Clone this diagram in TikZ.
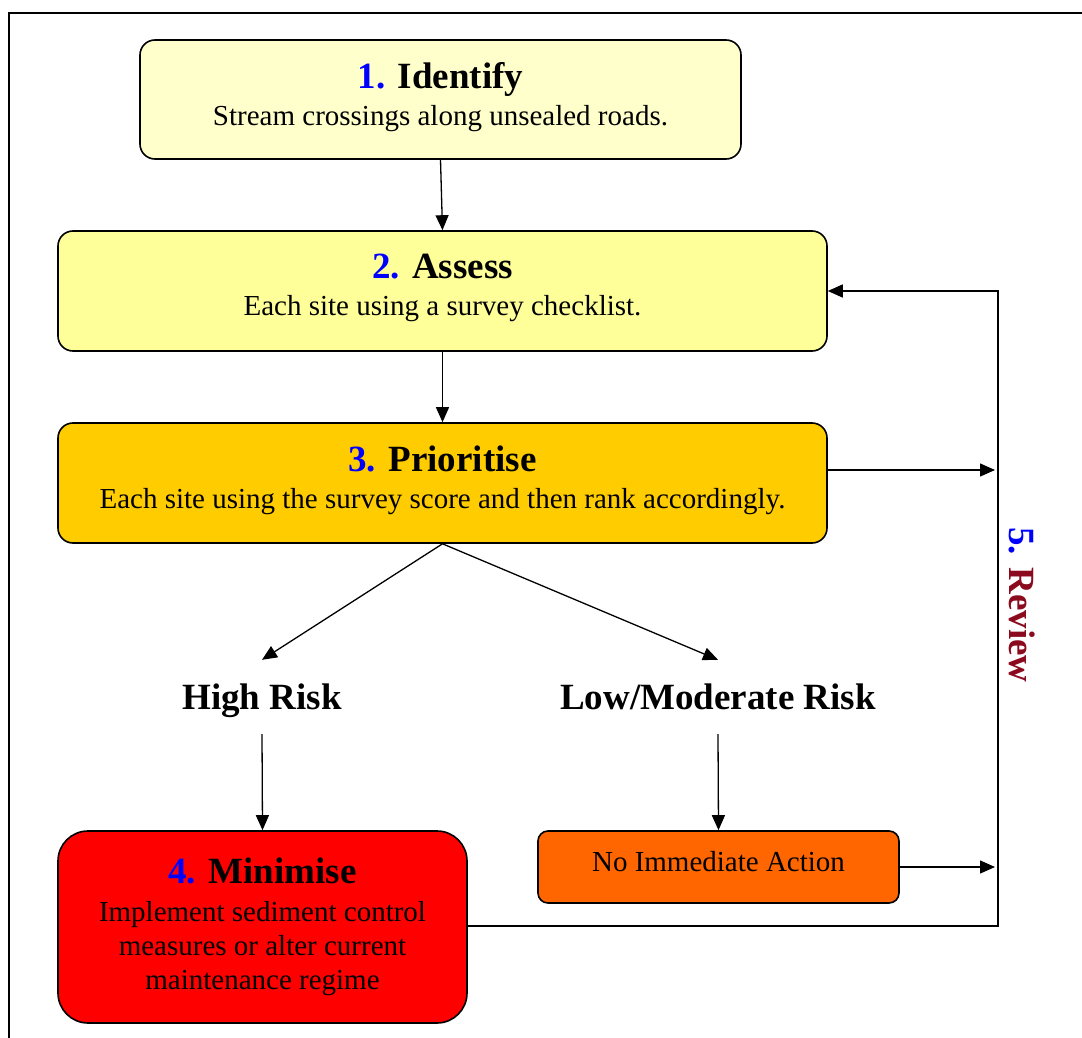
\documentclass[tikz,border=0pt]{standalone}
\usepackage{fontspec}
\setmainfont{Liberation Serif}
\usetikzlibrary{arrows.meta}
\definecolor{c1}{HTML}{FFFFCC}
\definecolor{c2}{HTML}{FFFF99}
\definecolor{c3}{HTML}{FFCC00}
\definecolor{c4}{HTML}{FF0000}
\definecolor{c5}{HTML}{FF6600}
\definecolor{numblue}{HTML}{0000FF}
\definecolor{revred}{HTML}{8B0A1E}
\newcommand{\ttlfont}{\fontsize{37}{40}\selectfont\bfseries}
\newcommand{\dnstrut}{\rule[-12pt]{0pt}{12pt}}
\tikzset{
  stepbox/.style={draw=black, line width=1.6pt, rounded corners=15pt, align=center, inner sep=0pt,
    font=\fontsize{29}{37}\selectfont},
  lbl/.style={align=center, inner sep=0pt, minimum height=74pt, text height=33pt, text depth=8pt,
    font=\ttlfont},
  arr/.style={line width=1.3pt, -{Triangle[length=15pt,width=13pt]}},
}
\begin{document}
\begin{tikzpicture}[x=1pt,y=-1pt]
\useasboundingbox (0,0) rectangle (1082,1038);
\draw[line width=2pt] (1090,13) -- (9,13) -- (9,1050);

\node[stepbox, fill=c1, minimum width=601pt, minimum height=119pt] (b1) at (440.5,99.5)
  {{\ttlfont\textcolor{numblue}{1.} Identify}\\ Stream crossings along unsealed roads.\dnstrut};
\node[stepbox, fill=c2, minimum width=769pt, minimum height=120pt] (b2) at (442.5,291)
  {{\ttlfont\textcolor{numblue}{2.} Assess}\\ Each site using a survey checklist.\dnstrut};
\node[stepbox, fill=c3, minimum width=769pt, minimum height=120pt] (b3) at (442.5,483)
  {{\ttlfont\textcolor{numblue}{3.} Prioritise}\\ Each site using the survey score and then rank accordingly.\dnstrut};

\node[lbl] (hr) at (262,697) {High Risk};
\node[lbl] (lr) at (718,697) {Low/Moderate Risk};

\node[stepbox, fill=c4, rounded corners=30pt, minimum width=409pt, minimum height=192pt,
  font=\fontsize{29}{34}\selectfont] (b4) at (262.5,927)
  {{\ttlfont\textcolor{numblue}{4.} Minimise}\\[4pt] Implement sediment control\\ measures or alter current\\ maintenance regime};
\node[stepbox, fill=c5, rounded corners=10pt, minimum width=361pt, minimum height=72pt] (nia) at (718.5,867)
  {No Immediate Action\dnstrut};

\node[rotate=-90, inner sep=0pt, font=\ttlfont] (rev) at (1022,605)
  {\textcolor{numblue}{5.} \textcolor{revred}{Review}};

\coordinate (r1) at (995,470);
\coordinate (r2) at (995,867);
\coordinate (rc) at (998,926);

\draw[arr] (b1.south) -- (b2.north);
\draw[arr] (b2.south) -- (b3.north);
\draw[arr] (b3.south) -- (hr.north);
\draw[arr] (b3.south) -- (lr.north);
\draw[arr] (hr.south) -- (b4.north);
\draw[arr] (lr.south) -- (nia.north);
\draw[arr] (b3.east |- r1) -- (r1);
\draw[arr] (nia.east) -- (r2);
\draw[arr] (b4.east |- rc) -- (rc) |- (b2.east);
\end{tikzpicture}
\end{document}
